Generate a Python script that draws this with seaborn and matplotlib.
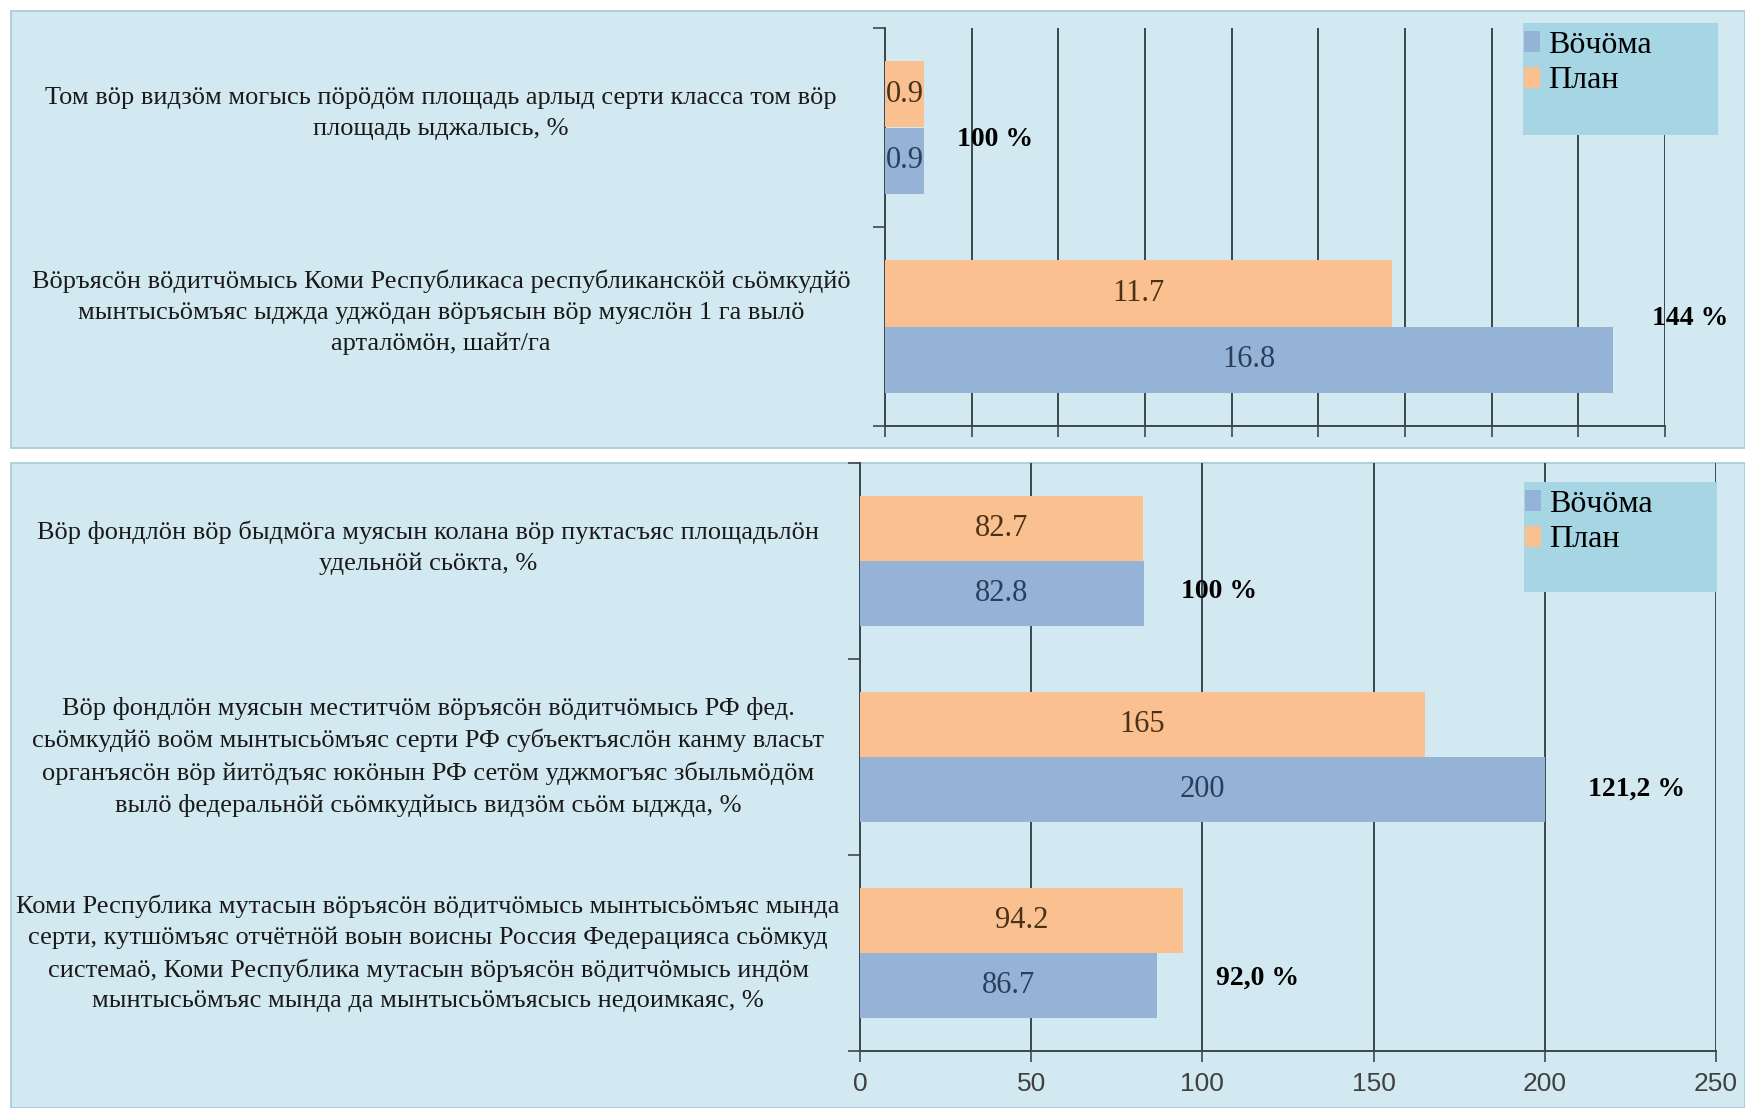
import pandas as pd
import seaborn as sns
import matplotlib.pyplot as plt
from matplotlib.patches import Patch, Rectangle

# ── Data ───────────────────────────────────────────────────────────────────────
SERIES = ["План", "Вӧчӧма"]

top_categories = [
    "Том вӧр видзӧм могысь пӧрӧдӧм площадь арлыд серти класса том вӧр\n"
    "площадь ыджалысь, %",
    "Вӧръясӧн вӧдитчӧмысь Коми Республикаса республиканскӧй сьӧмкудйӧ\n"
    "мынтысьӧмъяс ыджда уджӧдан вӧръясын вӧр муяслӧн 1 га вылӧ\n"
    "арталӧмӧн, шайт/га",
]
top_plan = [0.9, 11.7]
top_actual = [0.9, 16.8]
top_pct = ["100 %", "144 %"]
top_xticks = [0, 2, 4, 6, 8, 10, 12, 14, 16, 18]

bottom_categories = [
    "Вӧр фондлӧн вӧр быдмӧга муясын колана вӧр пуктасъяс площадьлӧн\n"
    "удельнӧй сьӧкта, %",
    "Вӧр фондлӧн муясын меститчӧм вӧръясӧн вӧдитчӧмысь РФ фед.\n"
    "сьӧмкудйӧ воӧм мынтысьӧмъяс серти РФ субъектъяслӧн канму власьт\n"
    "органъясӧн вӧр йитӧдъяс юкӧнын РФ сетӧм уджмогъяс збыльмӧдӧм\n"
    "вылӧ федеральнӧй сьӧмкудйысь видзӧм сьӧм ыджда, %",
    "Коми Республика мутасын вӧръясӧн вӧдитчӧмысь мынтысьӧмъяс мында\n"
    "серти, кутшӧмъяс отчётнӧй воын воисны Россия Федерацияса сьӧмкуд\n"
    "системаӧ, Коми Республика мутасын вӧръясӧн вӧдитчӧмысь индӧм\n"
    "мынтысьӧмъяс мында да мынтысьӧмъясысь недоимкаяс, %",
]
bottom_plan = [82.7, 165, 94.2]
bottom_actual = [82.8, 200, 86.7]
bottom_pct = ["100 %", "121,2 %", "92,0 %"]
bottom_xticks = [0, 50, 100, 150, 200, 250]

# ── Style ──────────────────────────────────────────────────────────────────────
BLUE = "#95b3d7"
ORANGE = "#fac08f"
PANEL = "#d3e9f1"
LEGEND_BG = "#a6d5e3"
GRID = "#3b474e"
PALETTE = {"План": ORANGE, "Вӧчӧма": BLUE}
LABEL_COLORS = {"План": "#4a3218", "Вӧчӧма": "#2b3f5c"}

SERIF = ["Liberation Serif", "DejaVu Serif"]
SANS = ["Liberation Sans", "DejaVu Sans"]

W, H = 1745, 1108
fig = plt.figure(figsize=(W / 100, H / 100), dpi=100)
fig.patch.set_facecolor("white")

# panel backgrounds
for y0, y1 in [(11, 448), (463, 1108)]:
    fig.patches.append(Rectangle((11 / W, 1 - y1 / H), (W - 11) / W, (y1 - y0) / H,
                                 transform=fig.transFigure, facecolor=PANEL,
                                 edgecolor="#a3cbd8", lw=1.2, zorder=-5))

ax_top = fig.add_axes([885 / W, 1 - 426 / H, 780 / W, 398 / H])
ax_bot = fig.add_axes([860 / W, 1 - 1051 / H, 856 / W, 588 / H])


def draw_panel(ax, categories, plan, actual, pct, xticks, show_xlabels,
               label_x, label_dy, pct_dx, pct_dy, legend_box):
    df = pd.DataFrame({
        "category": categories * 2,
        "series": ["План"] * len(categories) + ["Вӧчӧма"] * len(categories),
        "value": plan + actual,
    })
    sns.barplot(data=df, x="value", y="category", hue="series", hue_order=SERIES,
                palette=PALETTE, orient="h", width=0.667, saturation=1,
                errorbar=None, legend=False, ax=ax, zorder=3)

    for cont, name in zip(ax.containers, SERIES):
        ax.bar_label(cont, fmt="%g", label_type="center", fontsize=22,
                     family=SERIF, color=LABEL_COLORS[name])

    n = len(categories)
    ax.set_xlim(xticks[0], xticks[-1])
    ax.set_ylim(n - 0.5, -0.5)
    ax.set_xticks(xticks)
    ax.set_yticks([i - 0.5 for i in range(n + 1)])
    ax.set_yticklabels([])
    ax.set_xlabel("")
    ax.set_ylabel("")
    if show_xlabels:
        ax.set_xticklabels([str(t) for t in xticks], family=SANS, fontsize=19,
                           color="#404040")
    else:
        ax.set_xticklabels([])
    ax.tick_params(axis="x", direction="out", length=8, width=1.2, color=GRID, pad=7)
    ax.tick_params(axis="y", direction="out", length=9, width=1.2, color=GRID)

    ax.set_facecolor("none")
    ax.grid(axis="x", color=GRID, lw=1.4, zorder=1)
    ax.grid(axis="y", visible=False)
    ax.set_axisbelow(True)
    for side in ["top", "right"]:
        ax.spines[side].set_visible(False)
    for side in ["left", "bottom"]:
        ax.spines[side].set_color(GRID)
        ax.spines[side].set_linewidth(1.4)

    # category labels on the left
    for i, text in enumerate(categories):
        ax.annotate(text, xy=(label_x, i), xycoords=("figure fraction", "data"),
                    xytext=(0, label_dy[i]), textcoords="offset pixels",
                    ha="center", va="center", multialignment="center",
                    family=SERIF, fontsize=19, color="#1a1a1a", linespacing=1.5)

    # percentage of plan next to the actual bar
    for i, txt in enumerate(pct):
        ax.annotate(txt, xy=(actual[i], i), xytext=(pct_dx[i], pct_dy[i]),
                    textcoords="offset pixels", ha="left", va="center",
                    family=SERIF, fontsize=20, fontweight="bold", color="black",
                    annotation_clip=False)

    # legend box
    x0, y0, x1, y1 = legend_box
    fig.patches.append(Rectangle((x0 / W, 1 - y1 / H), (x1 - x0) / W, (y1 - y0) / H,
                                 transform=fig.transFigure, facecolor=LEGEND_BG,
                                 edgecolor="none", zorder=2))
    handles = [Patch(facecolor=BLUE), Patch(facecolor=ORANGE)]
    fig.legend(handles, ["Вӧчӧма", "План"], loc="upper left",
               bbox_to_anchor=((x0 + 1) / W, 1 - (y0 + 8) / H),
               bbox_transform=fig.transFigure, frameon=False,
               prop={"family": SERIF, "size": 23}, handlelength=0.5,
               handleheight=0.65, handletextpad=0.25, labelspacing=0.2,
               borderpad=0, borderaxespad=0)


draw_panel(ax_top, top_categories, top_plan, top_actual, top_pct, top_xticks,
           show_xlabels=False, label_x=441 / W, label_dy=[14, 14],
           pct_dx=[33, 39], pct_dy=[-12, 8], legend_box=(1523, 23, 1718, 135))

draw_panel(ax_bot, bottom_categories, bottom_plan, bottom_actual, bottom_pct,
           bottom_xticks, show_xlabels=True, label_x=428 / W, label_dy=[13, 0, 0],
           pct_dx=[37, 43, 59], pct_dy=[-30, -32, -25],
           legend_box=(1524, 482, 1717, 592))

plt.savefig("out.png", dpi=100)
